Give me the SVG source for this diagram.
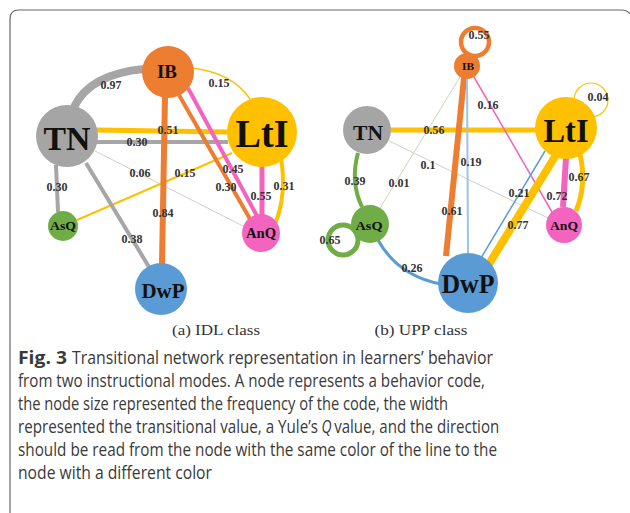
<svg xmlns="http://www.w3.org/2000/svg" width="630" height="513" viewBox="0 0 630 513">
<style>
.e{fill:none;stroke-linecap:butt}
.gy{stroke:#a6a6a6}.lg{stroke:#cfcfcf}.or{stroke:#ed7d31}.ye{stroke:#ffc000}.pk{stroke:#f264bd}.gr{stroke:#70ad47}.bl{stroke:#5b9bd5}.lb{stroke:#9dc3e6}
.nl{font-family:"Liberation Serif","Times New Roman",serif;font-weight:bold;fill:#111;text-anchor:middle}
.el{font-family:"Liberation Serif","Times New Roman",serif;font-weight:bold;font-size:12px;fill:#333;text-anchor:middle}
.sc{font-family:"Liberation Serif","Times New Roman",serif;font-size:14px;fill:#333;text-anchor:middle}
.cap{font-family:"Open Sans","Noto Sans",sans-serif;font-size:18px;fill:#3a3a3a}
</style>
<rect width="630" height="513" fill="#fff"/>
<path d="M10 513 Q10 510 10 505 L10 19 Q10 10 19 10 L622 10 Q627 10 630 14" fill="none" stroke="#666" stroke-width="1.2"/>

<g id="connectors">
  <!-- left panel (IDL) -->
  <path class="e gy" stroke-width="8" d="M74 107 Q90 74 144 69"/>
  <path class="e ye" stroke-width="1.5" d="M190 68 Q232 72 250 99"/>
  <line class="e ye" stroke-width="5" x1="96" y1="130" x2="229" y2="132"/>
  <line class="e gy" stroke-width="4" x1="97" y1="142" x2="228" y2="142"/>
  <line class="e lg" stroke-width="1" x1="95" y1="151" x2="243" y2="226"/>
  <line class="e ye" stroke-width="2" x1="77" y1="220" x2="232" y2="153"/>
  <line class="e gy" stroke-width="4" x1="56" y1="165" x2="58" y2="212"/>
  <line class="e gy" stroke-width="4" x1="86" y1="163" x2="149" y2="267"/>
  <line class="e or" stroke-width="6" x1="165" y1="96" x2="162" y2="264"/>
  <line class="e or" stroke-width="4" x1="179" y1="95" x2="250" y2="219"/>
  <line class="e pk" stroke-width="4" x1="188" y1="88" x2="257" y2="216"/>
  <line class="e pk" stroke-width="5" x1="262" y1="165" x2="262" y2="216"/>
  <path class="e ye" stroke-width="4" d="M281 158 Q287 195 275 224"/>
  <!-- right panel (UPP) -->
  <circle class="e or" stroke-width="4.5" cx="475" cy="42" r="14"/>
  <circle class="e ye" stroke-width="1.2" cx="591" cy="100" r="17"/>
  <circle class="e gr" stroke-width="5" cx="343" cy="240" r="15"/>
  <line class="e ye" stroke-width="5" x1="390" y1="130" x2="537" y2="130"/>
  <line class="e lg" stroke-width="1" x1="389" y1="141" x2="548" y2="218"/>
  <line class="e" stroke="#c8d8bc" stroke-width="1" x1="460" y1="77" x2="380" y2="208"/>
  <line class="e or" stroke-width="6" x1="464" y1="78" x2="446" y2="256"/>
  <line class="e lb" stroke-width="2" x1="467" y1="78" x2="468" y2="254"/>
  <line class="e pk" stroke-width="1.5" x1="474" y1="77" x2="552" y2="212"/>
  <path class="e gr" stroke-width="4" d="M358 153 Q350 182 362 207"/>
  <path class="e bl" stroke-width="3" d="M378 240 Q398 276 441 284"/>
  <line class="e bl" stroke-width="1.5" x1="545" y1="151" x2="481" y2="258"/>
  <line class="e ye" stroke-width="8" x1="556" y1="155" x2="489" y2="264"/>
  <line class="e pk" stroke-width="6" x1="566" y1="158" x2="563" y2="207"/>
  <path class="e ye" stroke-width="5" d="M580 154 Q587 185 576 211"/>
</g>

<g id="a-TN"><circle cx="67" cy="136" r="31" fill="#a5a5a5"/><text class="nl" x="67" y="150" font-size="34" textLength="47" lengthAdjust="spacingAndGlyphs">TN</text></g>
<g id="a-IB"><circle cx="168" cy="72" r="26" fill="#ed7d31"/><text class="nl" x="167" y="78" font-size="19" textLength="20" lengthAdjust="spacingAndGlyphs">IB</text></g>
<g id="a-LtI"><circle cx="262" cy="132" r="35" fill="#ffc000"/><text class="nl" x="262" y="147" font-size="40" textLength="53" lengthAdjust="spacingAndGlyphs">LtI</text></g>
<g id="a-AsQ"><circle cx="63" cy="226" r="15" fill="#70ad47"/><text class="nl" x="63" y="230" font-size="12" textLength="26" lengthAdjust="spacingAndGlyphs">AsQ</text></g>
<g id="a-AnQ"><circle cx="261" cy="233" r="19" fill="#f264bd"/><text class="nl" x="261" y="238" font-size="14" textLength="30" lengthAdjust="spacingAndGlyphs" fill="#2a0a20">AnQ</text></g>
<g id="a-DwP"><circle cx="161" cy="289" r="26" fill="#5b9bd5"/><text class="nl" x="163" y="298" font-size="21" textLength="43" lengthAdjust="spacingAndGlyphs" fill="#0d1a2a">DwP</text></g>

<g id="b-TN"><circle cx="367" cy="130" r="24" fill="#a5a5a5"/><text class="nl" x="368" y="140" font-size="22" textLength="30" lengthAdjust="spacingAndGlyphs">TN</text></g>
<g id="b-IB"><circle cx="467" cy="66" r="13" fill="#ed7d31"/><text class="nl" x="468" y="70" font-size="11" textLength="12" lengthAdjust="spacingAndGlyphs">IB</text></g>
<g id="b-LtI"><circle cx="566" cy="128" r="31" fill="#ffc000"/><text class="nl" x="566" y="142" font-size="34" textLength="45" lengthAdjust="spacingAndGlyphs">LtI</text></g>
<g id="b-AsQ"><circle cx="370" cy="224" r="19" fill="#70ad47"/><text class="nl" x="369" y="230" font-size="13" textLength="27" lengthAdjust="spacingAndGlyphs">AsQ</text></g>
<g id="b-AnQ"><circle cx="564" cy="225" r="18" fill="#f264bd"/><text class="nl" x="564" y="230" font-size="13" textLength="28" lengthAdjust="spacingAndGlyphs" fill="#2a0a20">AnQ</text></g>
<g id="b-DwP"><circle cx="468" cy="283" r="30" fill="#5b9bd5"/><text class="nl" x="468" y="293" font-size="27" textLength="53" lengthAdjust="spacingAndGlyphs" fill="#0d1a2a">DwP</text></g>

<g id="edge-labels">
  <text class="el" x="111" y="89">0.97</text>
  <text class="el" x="219" y="87">0.15</text>
  <text class="el" x="168" y="134">0.51</text>
  <text class="el" x="137" y="146">0.30</text>
  <text class="el" x="140" y="177">0.06</text>
  <text class="el" x="185" y="177">0.15</text>
  <text class="el" x="233" y="173">0.45</text>
  <text class="el" x="226" y="191">0.30</text>
  <text class="el" x="261" y="200">0.55</text>
  <text class="el" x="284" y="190">0.31</text>
  <text class="el" x="57" y="191">0.30</text>
  <text class="el" x="163" y="217">0.84</text>
  <text class="el" x="132" y="243">0.38</text>
  <text class="el" x="479" y="39">0.55</text>
  <text class="el" x="598" y="101">0.04</text>
  <text class="el" x="488" y="109">0.16</text>
  <text class="el" x="434" y="134">0.56</text>
  <text class="el" x="428" y="169">0.1</text>
  <text class="el" x="471" y="166">0.19</text>
  <text class="el" x="355" y="185">0.39</text>
  <text class="el" x="399" y="187">0.01</text>
  <text class="el" x="579" y="181">0.67</text>
  <text class="el" x="519" y="197">0.21</text>
  <text class="el" x="557" y="200">0.72</text>
  <text class="el" x="452" y="215">0.61</text>
  <text class="el" x="518" y="229">0.77</text>
  <text class="el" x="330" y="244">0.65</text>
  <text class="el" x="412" y="272">0.26</text>
</g>

<text class="sc" x="216" y="335" textLength="88" lengthAdjust="spacingAndGlyphs">(a) IDL class</text>
<text class="sc" x="421" y="335" textLength="93" lengthAdjust="spacingAndGlyphs">(b) UPP class</text>

<g id="caption" transform="translate(18 0) scale(0.85 1)">
  <text class="cap" x="0" y="364" font-weight="bold" textLength="57.6" lengthAdjust="spacingAndGlyphs">Fig. 3</text>
  <text class="cap" x="63.5" y="364" textLength="495.3" lengthAdjust="spacingAndGlyphs">Transitional network representation in learners’ behavior</text>
  <text class="cap" x="0" y="387" textLength="549.4" lengthAdjust="spacingAndGlyphs">from two instructional modes. A node represents a behavior code,</text>
  <text class="cap" x="0" y="410" textLength="505.9" lengthAdjust="spacingAndGlyphs">the node size represented the frequency of the code, the width</text>
  <text class="cap" x="0" y="433" textLength="352.9" lengthAdjust="spacingAndGlyphs">represented the transitional value, a Yule’s</text>
  <text class="cap" x="357" y="433" font-style="italic" textLength="11.8" lengthAdjust="spacingAndGlyphs">Q</text>
  <text class="cap" x="372" y="433" textLength="194.1" lengthAdjust="spacingAndGlyphs">value, and the direction</text>
  <text class="cap" x="0" y="456" textLength="563.5" lengthAdjust="spacingAndGlyphs">should be read from the node with the same color of the line to the</text>
  <text class="cap" x="0" y="479" textLength="228.2" lengthAdjust="spacingAndGlyphs">node with a different color</text>
</g>
</svg>
